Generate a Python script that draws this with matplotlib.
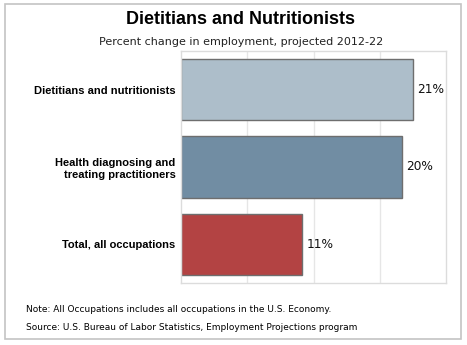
import matplotlib.pyplot as plt
from matplotlib.patches import Rectangle

# datos del grafico
categorias = ["Dietitians and nutritionists",
              "Health diagnosing and\ntreating practitioners",
              "Total, all occupations"]
valores = [21, 20, 11]
etiquetas = ["21%", "20%", "11%"]
colores = ["#adbeca", "#718da3", "#b34343"]

fig = plt.figure(figsize=(4.67, 3.45), dpi=100)
fig.patch.set_facecolor("white")

# marco exterior
fig.patches.append(Rectangle((5 / 467, 1 - 339 / 345), 456 / 467, 335 / 345,
                             transform=fig.transFigure, fill=False,
                             edgecolor="#c4c4c4", linewidth=1.2))

ax = fig.add_axes([181 / 467, 1 - 283 / 345, 265 / 467, 232 / 345])
pos = list(range(len(categorias)))
ax.barh(pos, valores, height=0.79, color=colores, edgecolor="#6e6e6e",
        linewidth=1.0, zorder=2)
ax.set_ylim(len(categorias) - 0.5, -0.5)
ax.set_xlim(0, 24)
ax.set_xticks([6, 12, 18])
ax.tick_params(axis="x", length=0, labelbottom=False)
ax.tick_params(axis="y", length=0, pad=4)
ax.set_yticks(pos)
ax.set_yticklabels(categorias, fontsize=8, fontweight="bold",
                   family="Liberation Sans", linespacing=1.3)
ax.grid(axis="x", color="#e6e6e6", linewidth=1.0, zorder=0)
for s in ax.spines.values():
    s.set_color("#dcdcdc")
    s.set_linewidth(1.0)

for i, (v, t) in enumerate(zip(valores, etiquetas)):
    ax.text(v + 0.35, i, t, va="center", ha="left", fontsize=8.7,
            color="#111111", family="DejaVu Sans")

fig.text(240 / 467, 1 - 20 / 345, "Dietitians and Nutritionists",
         ha="center", va="center", fontsize=13, fontweight="bold",
         family="Liberation Sans")
fig.text(241 / 467, 1 - 42 / 345, "Percent change in employment, projected 2012-22",
         ha="center", va="center", fontsize=8, color="#222222",
         family="DejaVu Sans")

fig.text(26 / 467, 1 - 310 / 345,
         "Note: All Occupations includes all occupations in the U.S. Economy.",
         ha="left", va="center", fontsize=6.5, family="DejaVu Sans")
fig.text(26 / 467, 1 - 327 / 345,
         "Source: U.S. Bureau of Labor Statistics, Employment Projections program",
         ha="left", va="center", fontsize=6.5, family="DejaVu Sans")

fig.savefig("out.png", dpi=100)
